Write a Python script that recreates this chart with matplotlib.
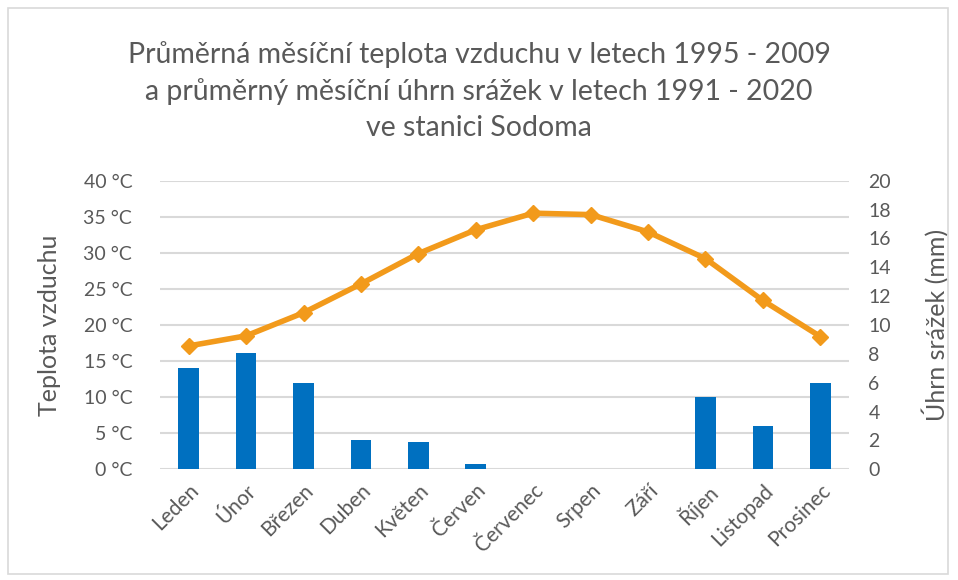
import matplotlib
matplotlib.use("Agg")
import matplotlib.pyplot as plt
from matplotlib.patches import Rectangle

plt.rcParams['font.family'] = ['Lato', 'DejaVu Sans']

months = ["Leden", "Únor", "Březen", "Duben", "Květen", "Červen",
          "Červenec", "Srpen", "Září", "Říjen", "Listopad", "Prosinec"]
temperature = [17.1, 18.5, 21.7, 25.7, 29.9, 33.2, 35.5, 35.3, 32.9, 29.2, 23.4, 18.4]
precipitation = [7.0, 8.05, 6.0, 2.0, 1.9, 0.35, 0, 0, 0, 5.0, 3.0, 6.0]
temp_ticks = [0, 5, 10, 15, 20, 25, 30, 35, 40]
prec_ticks = [0, 2, 4, 6, 8, 10, 12, 14, 16, 18, 20]

title = ("Průměrná měsíční teplota vzduchu v letech 1995 - 2009\n"
         "a průměrný měsíční úhrn srážek v letech 1991 - 2020\n"
         "ve stanici Sodoma")

grey = "#595959"
gridc = "#D9D9D9"
barc = "#0070C0"
linec = "#F29A1B"

fig = plt.figure(figsize=(9.58, 5.8), dpi=100)
W, H = 958, 580
x0, x1 = 160, 849
y_top, y_bot = 180.7, 469.3
ax = fig.add_axes([x0 / W, 1 - y_bot / H, (x1 - x0) / W, (y_bot - y_top) / H])
ax2 = ax.twinx()

xs = list(range(len(months)))
ax2.bar(xs, precipitation, width=0.36, color=barc, zorder=2)
ax.plot(xs, temperature, color=linec, lw=4, marker='D', ms=8, zorder=3)

ax.set_zorder(ax2.get_zorder() + 1)
ax.patch.set_visible(False)

ax.set_xlim(-0.5, 11.5)
ax.set_ylim(0, 40)
ax2.set_ylim(0, 20)
ax.set_yticks(temp_ticks)
ax.set_yticklabels([f"{t} °C" for t in temp_ticks])
ax2.set_yticks(prec_ticks)
ax2.set_yticklabels([str(p) for p in prec_ticks])
ax.set_xticks(xs)
ax.set_xticklabels(months, rotation=45, ha='right', rotation_mode='anchor')

for a in (ax, ax2):
    for s in a.spines.values():
        s.set_visible(False)
    a.tick_params(length=0, colors=grey, labelsize=14)
ax.tick_params(axis='y', pad=20)
ax2.tick_params(axis='y', pad=14)
ax.tick_params(axis='x', pad=8, labelsize=15)

ax2.grid(False)
for t in temp_ticks:
    ax2.axhline(t / 2, color=gridc, lw=1.5, zorder=0)

ax.set_ylabel("Teplota vzduchu", color=grey, fontsize=18, labelpad=16)
ax2.set_ylabel("Úhrn srážek (mm)", color=grey, fontsize=18, labelpad=22)

fig.text(479 / W, 1 - 91 / H, title, ha='center', va='center', color=grey,
         fontsize=20.5, linespacing=1.45)

fig.patches.append(Rectangle((8 / W, 6 / H), 940 / W, 566 / H, transform=fig.transFigure,
                             fill=False, edgecolor=gridc, lw=1.2))

fig.savefig("out.png", dpi=100)
